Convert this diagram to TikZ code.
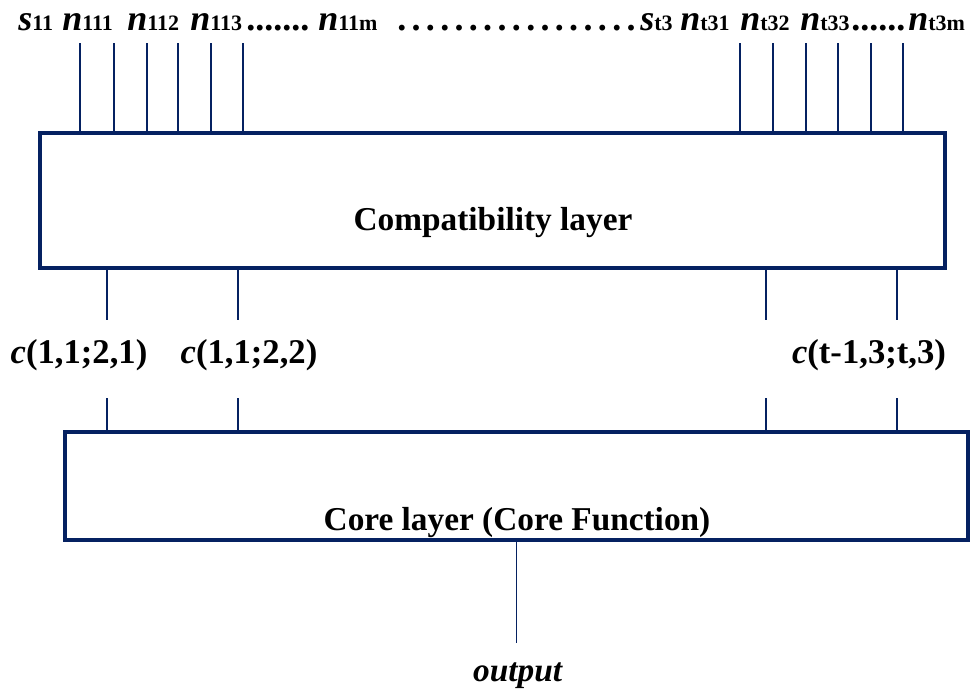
\documentclass[tikz,border=0pt]{standalone}
\usepackage{fontspec}
\setmainfont{Liberation Serif}
\definecolor{qqbfnv}{rgb}{0.02,0.13,0.38}
\newcommand{\sub}[2]{\textit{#1}{\fontsize{16.5}{18}\selectfont #2}}

\begin{document}
\begin{tikzpicture}[x=0.75pt,y=-0.75pt,
	box/.style={draw=qqbfnv,line width=3.6pt,inner sep=0pt},
	wire/.style={draw=qqbfnv,line width=1.1pt},
	toplbl/.style={anchor=base west,inner sep=0pt,font=\fontsize{27}{30}\selectfont\bfseries},
	midlbl/.style={anchor=base,inner sep=0pt,font=\fontsize{26}{28}\selectfont\bfseries},
	boxlbl/.style={inner sep=0pt,font=\fontsize{25}{28}\selectfont\bfseries}]
			\useasboundingbox (0,0) rectangle (979,690);
			\node [box,minimum width=678.75pt,minimum height=101.25pt] (compat) at (492.5,200.5) {};
			\node [box,minimum width=677.25pt,minimum height=81pt] (core) at (516.5,486) {};
			\node [boxlbl] (compattxt) at (493,223) {Compatibility layer};
			\node [boxlbl] (coretxt) at (517,523) {Core layer (Core Function)};
			% inputs
			\node [toplbl] (s11) at (18,30) {\sub{s}{11}};
			\node [toplbl] (n111) at (62,30) {\sub{n}{111}};
			\node [toplbl] (n112) at (127,30) {\sub{n}{112}};
			\node [toplbl] (n113) at (190,30) {\sub{n}{113}};
			\node [toplbl] (dotsa) at (246,30) {.......};
			\node [toplbl] (n11m) at (318,30) {\sub{n}{11m}};
			\node [toplbl] (dotsb) at (397,30) {.\hspace{4pt}.\hspace{4pt}.\hspace{4pt}.\hspace{4pt}.\hspace{4pt}.\hspace{4pt}.\hspace{4pt}.\hspace{4pt}.\hspace{4pt}.\hspace{4pt}.\hspace{4pt}.\hspace{4pt}.\hspace{4pt}.\hspace{4pt}.\hspace{4pt}.\hspace{4pt}.};
			\node [toplbl] (st3) at (640,30) {\sub{s}{t3}};
			\node [toplbl] (nt31) at (680,30) {\sub{n}{t31}};
			\node [toplbl] (nt32) at (740,30) {\sub{n}{t32}};
			\node [toplbl] (nt33) at (800,30) {\sub{n}{t33}};
			\node [toplbl] (dotsc) at (851,30) {......};
			\node [toplbl] (nt3m) at (908,30) {\sub{n}{t3m}};
			\foreach \x in {80,114,147,178,211,243,740,773,806,838,871,903}
				\draw [wire] (\x,43) -- (\x,0 |- compat.north);
			% links between the layers
			\node [midlbl] (c1) at (79,363) {\textit{c}(1,1;2,1)};
			\node [midlbl] (c2) at (249,363) {\textit{c}(1,1;2,2)};
			\node [midlbl] (ct) at (869,363) {\textit{c}(t-1,3;t,3)};
			\foreach \x in {107,238,766,897} {
				\draw [wire] (\x,0 |- compat.south) -- (\x,320);
				\draw [wire] (\x,398) -- (\x,0 |- core.north);
			}
			% output
			\node [boxlbl] (out) at (518,676) {\textit{output}};
			\draw [wire] (core.south) -- (core.south |- 0,643);
\end{tikzpicture}
\end{document}
